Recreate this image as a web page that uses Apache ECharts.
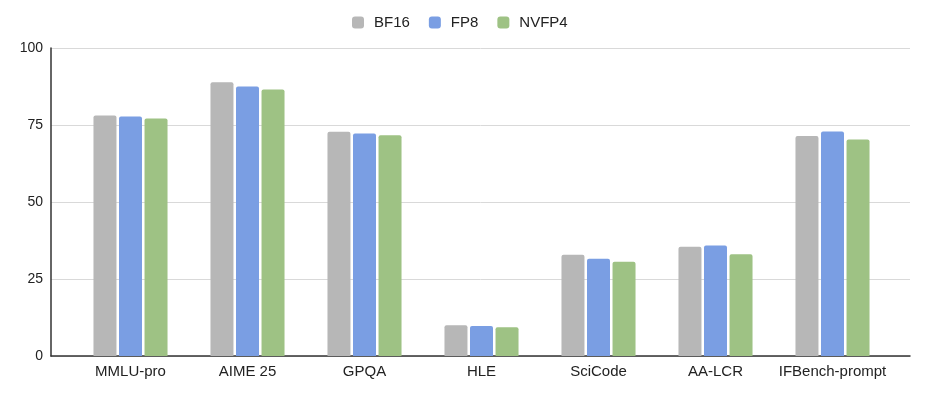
<!DOCTYPE html>
<html><head><meta charset="utf-8">
<script src="https://cdn.jsdelivr.net/npm/echarts@6/dist/echarts.min.js"></script>
<style>html,body{margin:0;padding:0;background:#fff}#c{width:927px;height:396px}</style>
</head><body><div id="c"></div>
<script>
const categories = ['MMLU-pro','AIME 25','GPQA','HLE','SciCode','AA-LCR','IFBench-prompt'];
const bf16 = [78.1, 88.9, 72.8, 10.0, 32.9, 35.5, 71.4];
const fp8 = [77.8, 87.5, 72.2, 9.7, 31.6, 35.9, 72.9];
const nvfp4 = [77.1, 86.5, 71.7, 9.3, 30.6, 33.0, 70.3];
const yTicks = [0, 25, 50, 75, 100];

const font = 'Liberation Sans, Arial, sans-serif';
const chart = echarts.init(document.getElementById('c'));
const mk = (name, data, color) => ({
  name, type: 'bar', data, xAxisIndex: 1, yAxisIndex: 1,
  barWidth: 23, barGap: '11%',
  itemStyle: { color, borderRadius: [2, 2, 0, 0] }
});
chart.setOption({
  animation: false,
  legend: {
    top: 10, left: 347, itemWidth: 12, itemHeight: 12, itemGap: 19,
    icon: 'roundRect',
    textStyle: { fontFamily: font, fontSize: 15, color: '#222', padding: [0, 0, 0, 5] },
    data: ['BF16', 'FP8', 'NVFP4']
  },
  grid: [
    { left: 51, right: 17, top: 48, bottom: 40 },
    { left: 72, right: 36, top: 48, bottom: 40 }
  ],
  xAxis: [
    { type: 'value', gridIndex: 0, min: 0, max: 1, axisLabel: { show: false }, axisTick: { show: false }, splitLine: { show: false },
      axisLine: { show: true, lineStyle: { color: '#333', width: 1.5 } } },
    { type: 'category', gridIndex: 1, data: categories,
      axisLine: { show: false }, axisTick: { show: false },
      axisLabel: { fontFamily: font, fontSize: 15, color: '#222', margin: 8, interval: 0 } }
  ],
  yAxis: [
    { type: 'value', gridIndex: 0, min: yTicks[0], max: yTicks[yTicks.length - 1], interval: 25,
      axisLine: { show: true, lineStyle: { color: '#333', width: 1.5 } }, axisTick: { show: false },
      axisLabel: { fontFamily: font, fontSize: 14, color: '#222', margin: 8 },
      splitLine: { lineStyle: { color: '#d9d9d9', width: 1 } } },
    { type: 'value', gridIndex: 1, min: 0, max: 100, show: false }
  ],
  series: [
    mk('BF16', bf16, '#b7b7b7'),
    mk('FP8', fp8, '#7a9ee3'),
    mk('NVFP4', nvfp4, '#9ec284')
  ]
});
</script></body></html>
